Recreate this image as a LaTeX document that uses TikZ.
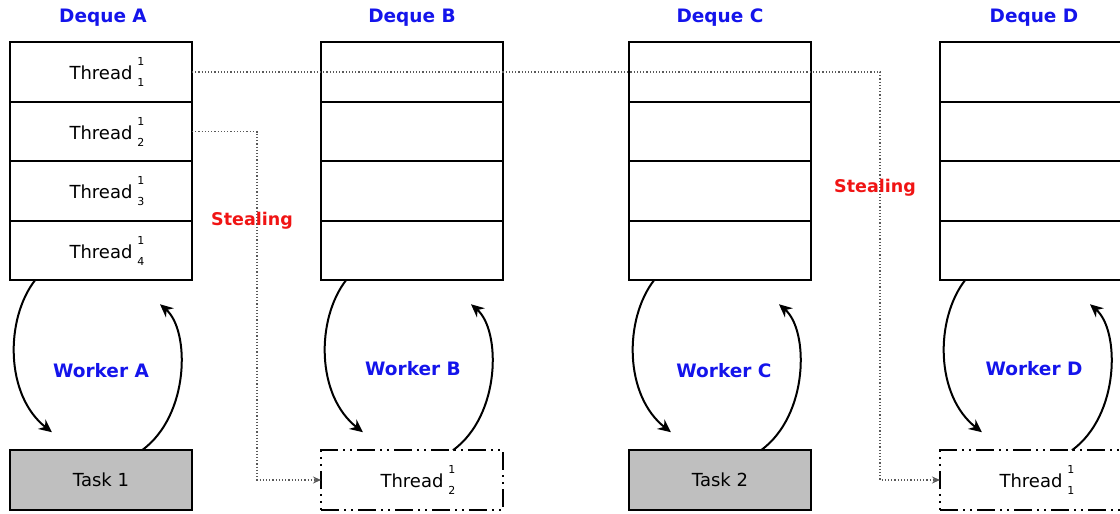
\documentclass[tikz,border=0pt]{standalone}
\usepackage{fontspec}
\setmainfont{DejaVu Sans}
\usetikzlibrary{arrows.meta}
\definecolor{dqblue}{RGB}{20,20,235}
\definecolor{stealred}{RGB}{240,20,20}
\newcommand{\thr}[2]{\hspace{12pt}Thread\hspace{5pt}\rlap{\raisebox{14pt}{\fontsize{11}{11}\selectfont #1}}\raisebox{-7pt}{\fontsize{11}{11}\selectfont #2}}
\tikzset{
  cell/.style={draw, line width=2.2pt, minimum width=182pt, minimum height=59.5pt,
    inner sep=0pt, outer sep=0pt, font=\fontsize{18}{21}\selectfont},
  taskbox/.style={cell, fill=black!25},
  slot/.style={cell, dash pattern=on 18pt off 5pt on 2pt off 5pt on 2pt off 5pt},
  title/.style={text=dqblue, font=\bfseries\fontsize{18.5}{22}\selectfont},
  stealtext/.style={text=stealred, font=\bfseries\fontsize{17.5}{21}\selectfont},
  steal/.style={dotted, black!65, line width=1.2pt, -{Stealth[length=8pt,width=7pt]}},
  loop/.style={line width=2pt, -{Stealth[length=13pt,width=12pt]}}
}
\begin{document}
\begin{tikzpicture}[x=1pt,y=-1pt]
\useasboundingbox (0,0) rectangle (1120,514);
% deque titles
\node[title] (tA) at (103,18) {Deque A};
\node[title] (tB) at (412,18) {Deque B};
\node[title] (tC) at (720,18) {Deque C};
\node[title] (tD) at (1034,18) {Deque D};
% deque A
\node[cell] (a1) at (101,72) {\thr{1}{1}};
\node[cell] (a2) at (101,131.5) {\thr{1}{2}};
\node[cell] (a3) at (101,191) {\thr{1}{3}};
\node[cell] (a4) at (101,250.5) {\thr{1}{4}};
% deque B
\node[cell] (b1) at (412,72) {};
\node[cell] (b2) at (412,131.5) {};
\node[cell] (b3) at (412,191) {};
\node[cell] (b4) at (412,250.5) {};
% deque C
\node[cell] (c1) at (720,72) {};
\node[cell] (c2) at (720,131.5) {};
\node[cell] (c3) at (720,191) {};
\node[cell] (c4) at (720,250.5) {};
% deque D
\node[cell] (d1) at (1031,72) {};
\node[cell] (d2) at (1031,131.5) {};
\node[cell] (d3) at (1031,191) {};
\node[cell] (d4) at (1031,250.5) {};
% running tasks
\node[taskbox] (ka) at (101,480) {Task 1};
\node[slot] (kb) at (412,480) {\thr{1}{2}};
\node[taskbox] (kc) at (720,480) {Task 2};
\node[slot] (kd) at (1031,480) {\thr{1}{1}};
% workers
\node[title] (wA) at (101,371) {Worker A};
\node[title] (wB) at (413,369) {Worker B};
\node[title] (wC) at (724,371) {Worker C};
\node[title] (wD) at (1034,369) {Worker D};
% worker loops
\draw[loop] ([xshift=25pt]a4.south west) .. controls +(-30,39) and +(-47,-37) .. ([xshift=42pt,yshift=18pt]ka.north west);
\draw[loop] ([xshift=132pt]ka.north west) .. controls +(48,-35) and +(30,26) .. ([xshift=150pt,yshift=-24pt]a4.south west);
\draw[loop] ([xshift=25pt]b4.south west) .. controls +(-30,39) and +(-47,-37) .. ([xshift=42pt,yshift=18pt]kb.north west);
\draw[loop] ([xshift=132pt]kb.north west) .. controls +(48,-35) and +(30,26) .. ([xshift=150pt,yshift=-24pt]b4.south west);
\draw[loop] ([xshift=25pt]c4.south west) .. controls +(-30,39) and +(-47,-37) .. ([xshift=42pt,yshift=18pt]kc.north west);
\draw[loop] ([xshift=132pt]kc.north west) .. controls +(48,-35) and +(30,26) .. ([xshift=150pt,yshift=-24pt]c4.south west);
\draw[loop] ([xshift=25pt]d4.south west) .. controls +(-30,39) and +(-47,-37) .. ([xshift=42pt,yshift=18pt]kd.north west);
\draw[loop] ([xshift=132pt]kd.north west) .. controls +(48,-35) and +(30,26) .. ([xshift=150pt,yshift=-24pt]d4.south west);
% stealing
\coordinate (s1) at (880,72);
\coordinate (s2) at (257,131.5);
\draw[steal] (a1.east) -- (s1) |- (kd.west);
\draw[steal] (a2.east) -- (s2) |- (kb.west);
\node[stealtext] (lA) at (252,221) {Stealing};
\node[stealtext] (lD) at (875,188) {Stealing};
\end{tikzpicture}
\end{document}
